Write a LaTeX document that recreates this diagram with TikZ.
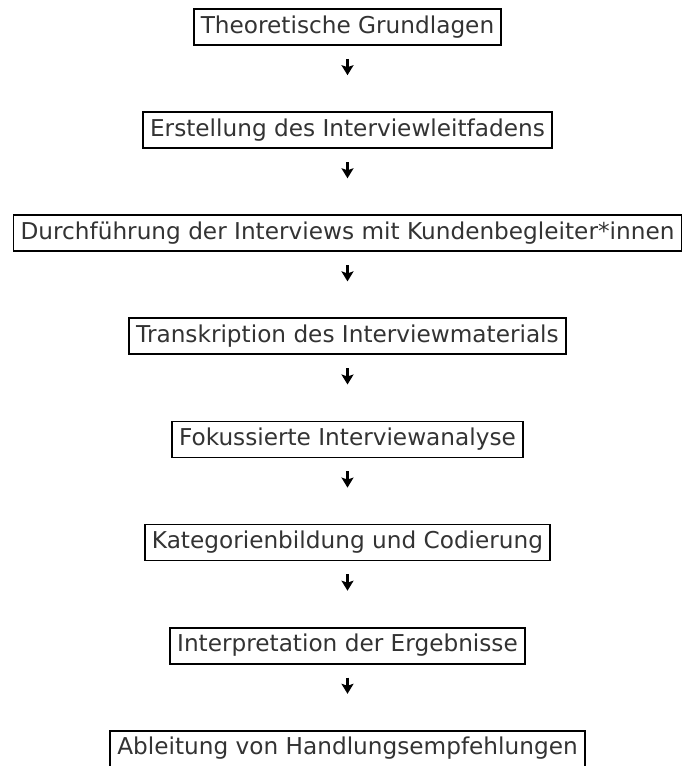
\documentclass[tikz,border=0pt]{standalone}
\usepackage{fontspec}
\setmainfont{DejaVu Sans}
\definecolor{StepText}{RGB}{51, 51, 51}
\usetikzlibrary{arrows.meta, positioning}

\begin{document}
\begin{tikzpicture}[
  node distance=65.3pt,
  stepbox/.style={
    rectangle, draw=black, fill=white, text=StepText,
    minimum height=36pt, inner xsep=7pt, inner ysep=0pt,
    text height=18pt, text depth=6pt,
    font=\fontsize{23.2}{27}\selectfont,
    line width=1.8pt
  },
  arrow/.style={-{Stealth[length=10pt, width=12pt, inset=2pt]}, line width=2.4pt,
    shorten <=13pt, shorten >=36pt},
]
\useasboundingbox (0,0) rectangle (681pt,-766pt);
\node[stepbox] (grundlagen) at (347.5pt,-27pt) {Theoretische Grundlagen};
\node[stepbox, below=of grundlagen] (leitfaden) {Erstellung des Interviewleitfadens};
\node[stepbox, below=of leitfaden] (durchfuehrung) {Durchführung der Interviews mit Kundenbegleiter*innen};
\node[stepbox, below=of durchfuehrung] (transkription) {Transkription des Interviewmaterials};
\node[stepbox, below=of transkription] (analyse) {Fokussierte Interviewanalyse};
\node[stepbox, below=of analyse] (codierung) {Kategorienbildung und Codierung};
\node[stepbox, below=of codierung] (interpretation) {Interpretation der Ergebnisse};
\node[stepbox, below=of interpretation] (empfehlungen) {Ableitung von Handlungsempfehlungen};

\draw[arrow] (grundlagen) -- (leitfaden);
\draw[arrow] (leitfaden) -- (durchfuehrung);
\draw[arrow] (durchfuehrung) -- (transkription);
\draw[arrow] (transkription) -- (analyse);
\draw[arrow] (analyse) -- (codierung);
\draw[arrow] (codierung) -- (interpretation);
\draw[arrow] (interpretation) -- (empfehlungen);
\end{tikzpicture}
\end{document}
